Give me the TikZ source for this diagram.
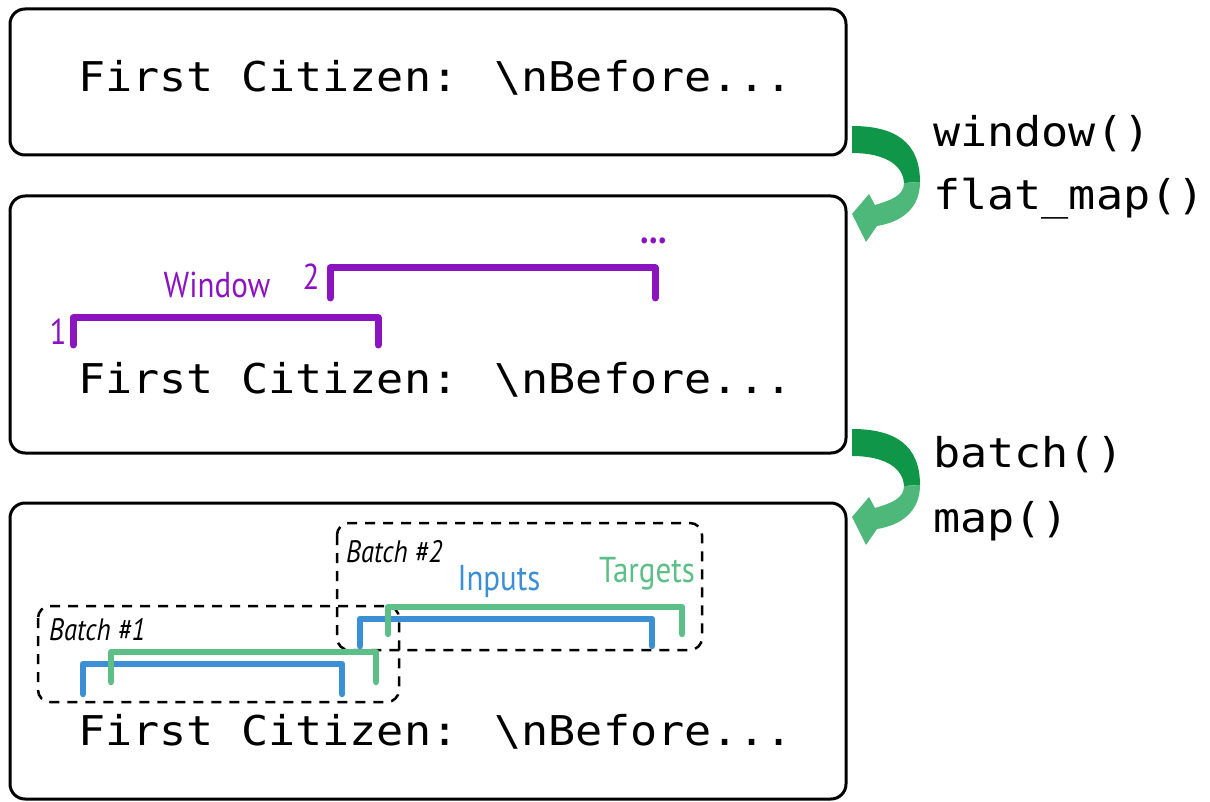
\documentclass[tikz,border=0pt]{standalone}
\usepackage{fontspec}
\newfontfamily\monofam[FakeStretch=1.1]{DejaVu Sans Mono}
\newfontfamily\labfam[FakeStretch=0.86]{PT Sans}
\definecolor{dgreen}{HTML}{0F9648}
\definecolor{lgreen}{HTML}{4DB87A}
\definecolor{wpurple}{HTML}{8C14C0}
\definecolor{iblue}{HTML}{3B8FD4}
\definecolor{tgreen}{HTML}{5DBF88}
\tikzset{
  stagebox/.style={draw=black, line width=3pt, rounded corners=15pt},
  codetext/.style={font=\monofam\fontsize{41}{49}\selectfont, inner sep=0pt, anchor=base west},
  optext/.style={font=\monofam\fontsize{41}{49}\selectfont, inner sep=0pt, anchor=base west},
  bracketline/.style={line width=7pt, line cap=round, line join=round},
  batchbox/.style={draw=black, line width=2.5pt, dash pattern=on 10pt off 8pt, rounded corners=12pt},
  lab/.style={font=\labfam\fontsize{36}{40}\selectfont, inner sep=0pt},
  blab/.style={font=\labfam\itshape\fontsize{31}{34}\selectfont, inner sep=0pt, anchor=base west},
}
\begin{document}
\begin{tikzpicture}[x=1pt, y=-1pt]
\useasboundingbox (0,0) rectangle (1210,802);
% stage boxes
\draw[stagebox] (10,9) rectangle (846,155);
\draw[stagebox] (10,196) rectangle (846,453);
\draw[stagebox] (10,503) rectangle (846,799);
\node[codetext] (t1) at (78,92) {First Citizen: \textbackslash nBefore...};
\node[codetext] (t2) at (78,393) {First Citizen: \textbackslash nBefore...};
\node[codetext] (t3) at (78,745) {First Citizen: \textbackslash nBefore...};
% operation labels
\node[optext] (o1) at (933,147) {window()};
\node[optext] (o2) at (933,210) {flat\_map()};
\node[optext] (o3) at (933,467) {batch()};
\node[optext] (o4) at (933,532) {map()};
% curved arrows
\foreach \dy in {0,303}{
  \begin{scope}[yshift=-\dy pt]
  \fill[dgreen] (852,126) .. controls (895,126) and (920,142) .. (920,182)
     -- (904,183) .. controls (903,165) and (885,153) .. (852,153) -- cycle;
  \fill[lgreen] (904,183) -- (920,182) .. controls (920,208) and (902,222) .. (877,226)
     -- (866,242) -- (852,214) -- (869,194) -- (875,205)
     .. controls (892,200) and (904,195) .. (904,183) -- cycle;
  \end{scope}
}
% window brackets
\draw[bracketline, wpurple] (73,345) -- (73,318) -- (378,318) -- (378,345);
\draw[bracketline, wpurple] (330,298) -- (330,268) -- (655,268) -- (655,298);
\node[lab, wpurple, anchor=base] (n1) at (58,344) {1};
\node[lab, wpurple, anchor=base] (n2) at (311,290) {2};
\node[lab, wpurple, anchor=base] (win) at (217,298) {Window};
\node[lab, wpurple, anchor=base, font=\labfam\bfseries\fontsize{40}{42}\selectfont] (dots) at (654,244) {...};
% batch boxes
\draw[batchbox] (38,606) rectangle (399,702);
\draw[batchbox] (337,523) rectangle (702,650);
\node[blab] (b1) at (49,640) {Batch \#1};
\node[blab] (b2) at (346,562) {Batch \#2};
% inputs / targets brackets
\draw[bracketline, line width=6.5pt, iblue] (83,694) -- (83,664) -- (342,664) -- (342,694);
\draw[bracketline, line width=6.5pt, tgreen] (111,682) -- (111,652) -- (376,652) -- (376,682);
\draw[bracketline, line width=6.5pt, iblue] (360,646) -- (360,619) -- (652,619) -- (652,646);
\draw[bracketline, line width=6.5pt, tgreen] (388,634) -- (388,607) -- (682,607) -- (682,634);
\node[lab, iblue, anchor=base] (inp) at (499,590) {Inputs};
\node[lab, tgreen, anchor=base] (tgt) at (647,582) {Targets};
\end{tikzpicture}
\end{document}
